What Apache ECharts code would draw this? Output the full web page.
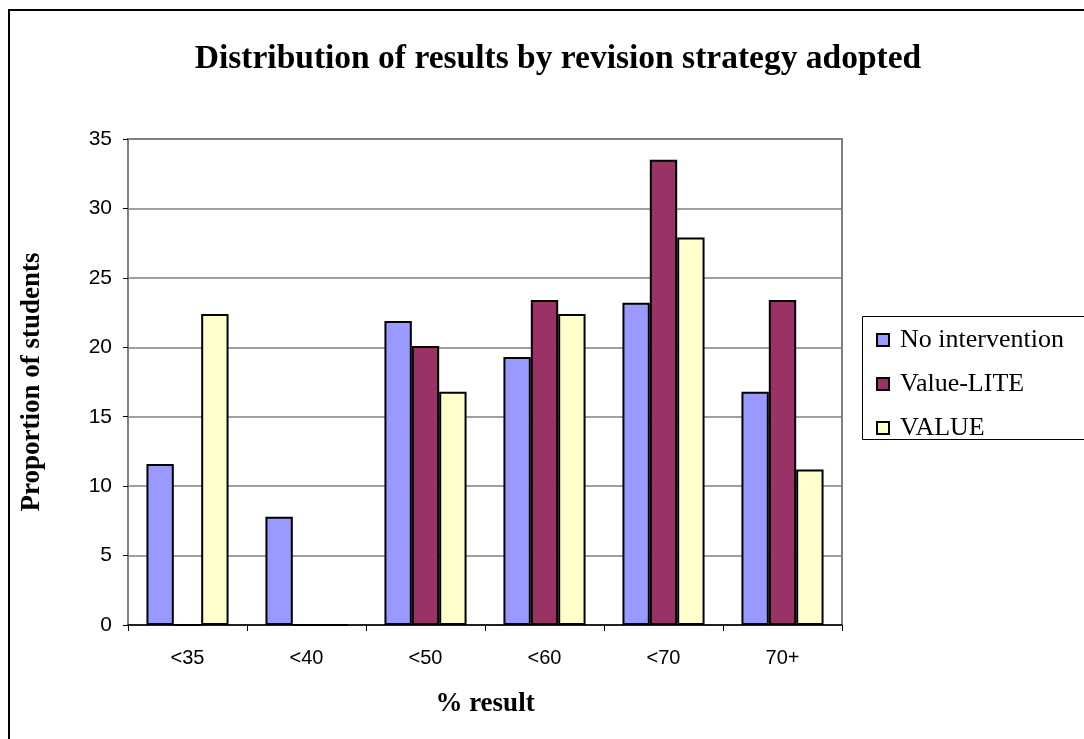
<!DOCTYPE html>
<html>
<head>
<meta charset="utf-8">
<script src="https://cdn.jsdelivr.net/npm/echarts@6/dist/echarts.min.js"></script>
<style>
html,body{margin:0;padding:0;background:#fff;}
#chart{width:1084px;height:739px;}
</style>
</head>
<body>
<div id="chart"></div>
<script>
const categories = ['<35', '<40', '<50', '<60', '<70', '70+'];
const seriesNames = ['No intervention', 'Value-LITE', 'VALUE'];
const noIntervention = [11.6, 7.8, 21.9, 19.3, 23.2, 16.8];
const valueLite = [0, 0, 20.1, 23.4, 33.5, 23.4];
const valueFull = [22.4, 0, 16.8, 22.4, 27.9, 11.2];
const colors = ['#9999FF', '#993366', '#FFFFCC'];

const chart = echarts.init(document.getElementById('chart'));
const serif = '"Liberation Serif", "Times New Roman", serif';
const sans = '"Liberation Sans", Arial, sans-serif';

function mk(name, data, color) {
  return {
    name: name,
    type: 'bar',
    data: data,
    barGap: '0%',
    barCategoryGap: '31%',
    itemStyle: { color: color, borderColor: '#000', borderWidth: 2 },
    emphasis: { disabled: true },
    animation: false
  };
}

chart.setOption({
  animation: false,
  backgroundColor: '#fff',
  title: {
    text: 'Distribution of results by revision strategy adopted',
    left: 553,
    textAlign: 'center',
    top: 37,
    textStyle: { fontFamily: serif, fontWeight: 'bold', fontSize: 33.5, color: '#000' }
  },
  legend: {
    orient: 'vertical',
    left: 871,
    top: 320,
    itemWidth: 12,
    itemHeight: 12,
    itemGap: 14,
    icon: 'rect',
    data: seriesNames,
    itemStyle: { borderColor: '#000', borderWidth: 2 },
    textStyle: { fontFamily: serif, fontSize: 26, color: '#000', lineHeight: 30, padding: [0, 0, 0, 6] }
  },
  grid: {
    left: 128, right: 242, top: 139, bottom: 114,
    show: true, borderColor: '#808080', borderWidth: 2, backgroundColor: 'transparent'
  },
  xAxis: {
    type: 'category',
    data: categories,
    name: '% result',
    nameLocation: 'middle',
    nameGap: 66,
    nameTextStyle: { fontFamily: serif, fontWeight: 'bold', fontSize: 27, color: '#000' },
    axisLine: { lineStyle: { color: '#000', width: 1.5 } },
    axisTick: { show: true, length: 6, lineStyle: { color: '#000' } },
    axisLabel: { fontFamily: sans, fontSize: 20, color: '#000', margin: 23 }
  },
  yAxis: {
    type: 'value',
    min: 0, max: 35, interval: 5,
    name: 'Proportion of students',
    nameLocation: 'middle',
    nameGap: 82,
    nameTextStyle: { fontFamily: serif, fontWeight: 'bold', fontSize: 27, color: '#000' },
    axisLine: { show: true, lineStyle: { color: '#808080', width: 2 } },
    axisTick: { show: true, length: 5, lineStyle: { color: '#000' } },
    axisLabel: { fontFamily: sans, fontSize: 21, color: '#000', margin: 16 },
    splitLine: { show: true, lineStyle: { color: '#808080', width: 1.5 } }
  },
  series: [
    mk(seriesNames[0], noIntervention, colors[0]),
    mk(seriesNames[1], valueLite, colors[1]),
    mk(seriesNames[2], valueFull, colors[2])
  ],
  graphic: [
    { type: 'rect', silent: true, z: -1,
      shape: { x: 9, y: 10, width: 1200, height: 1000 },
      style: { fill: 'none', stroke: '#000', lineWidth: 2 } },
    { type: 'rect', silent: true,
      shape: { x: 862.5, y: 316.5, width: 400, height: 123 },
      style: { fill: 'none', stroke: '#000', lineWidth: 1 } }
  ]
});
</script>
</body>
</html>
